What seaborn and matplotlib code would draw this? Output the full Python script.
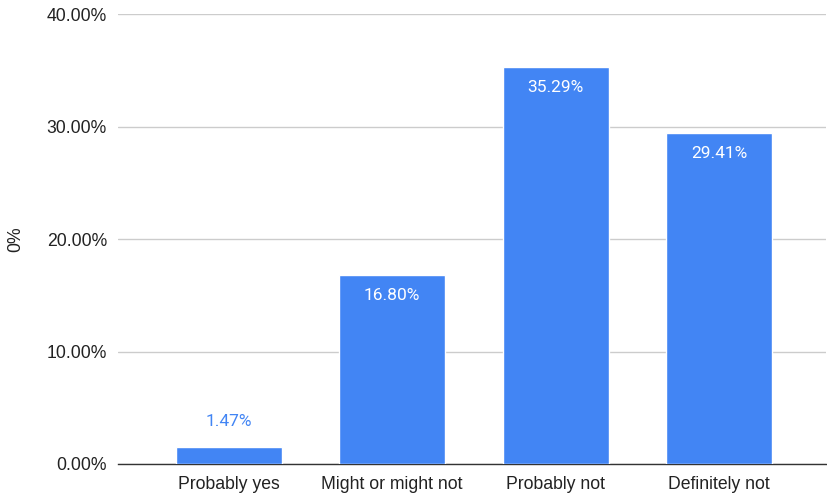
import matplotlib
matplotlib.use("Agg")
import matplotlib.pyplot as plt
import seaborn as sns
import pandas as pd
from matplotlib.ticker import FuncFormatter

categories = ["Probably yes", "Might or might not", "Probably not", "Definitely not"]
values = [1.47, 16.80, 35.29, 29.41]
yticks = [0, 10, 20, 30, 40]

bar_color = "#4285F4"
df = pd.DataFrame({"category": categories, "value": values})

sns.set_theme(style="white")
plt.rcParams["font.family"] = ["Liberation Sans", "DejaVu Sans"]

fig = plt.figure(figsize=(8.28, 4.97), dpi=100)
ax = fig.add_axes([0.1425, 0.0664, 0.855, 0.9054])

sns.barplot(data=df, x="category", y="value", color=bar_color, saturation=1,
            width=0.646, ax=ax, zorder=3)

ax.set_ylim(0, 40)
ax.set_xlim(-0.677, 3.652)
ax.set_yticks(yticks)
ax.yaxis.set_major_formatter(FuncFormatter(lambda v, p: f"{v:.2f}%"))
ax.grid(axis="y", color="#cccccc", linewidth=1, zorder=0)
ax.tick_params(axis="both", length=0, labelsize=12.7, colors="#222222")
ax.tick_params(axis="y", pad=8)
ax.tick_params(axis="x", pad=9)
for s in ["top", "right", "left"]:
    ax.spines[s].set_visible(False)
ax.spines["bottom"].set_color("#333333")
ax.spines["bottom"].set_linewidth(1)
ax.set_xlabel("")
ax.set_ylabel("0%", fontsize=12.7, color="#222222")
ax.yaxis.set_label_coords(-0.133, 0.5)

for i, v in enumerate(values):
    label = f"{v:.2f}%"
    if v < 5:
        ax.annotate(label, (i, v), xytext=(0, 13), textcoords="offset points",
                    ha="center", va="bottom", fontsize=12.5, color=bar_color,
                    family="Roboto")
    else:
        ax.annotate(label, (i, v), xytext=(0, -9), textcoords="offset points",
                    ha="center", va="top", fontsize=12.5, color="white",
                    family="Roboto")

fig.savefig("out.png", dpi=100)
